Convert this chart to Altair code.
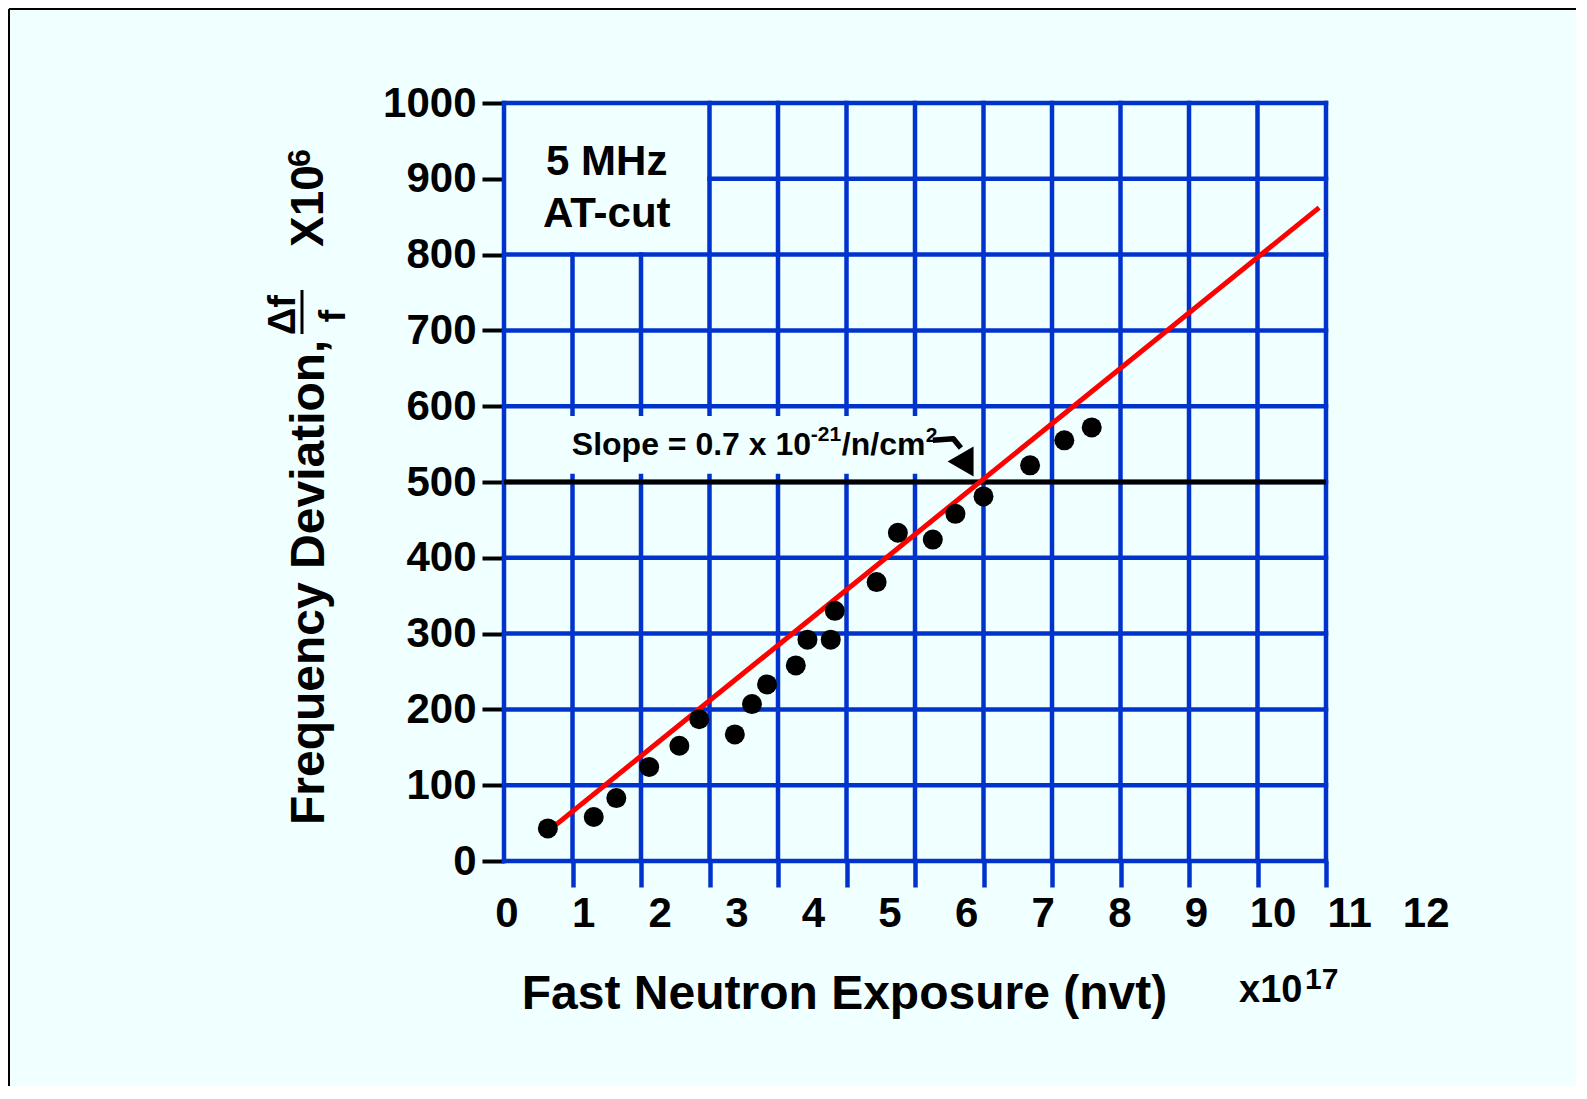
import altair as alt
import pandas as pd

# ---------------- data ----------------
exposure = [0.64, 1.31, 1.64, 2.12, 2.56, 2.85, 3.37, 3.62, 3.84, 4.26, 4.43,
            4.77, 4.83, 5.44, 5.75, 6.26, 6.59, 7.00, 7.68, 8.18, 8.58]
deviation = [43, 58, 83, 124, 152, 187, 167, 207, 233, 258, 292,
             292, 330, 368, 433, 424, 458, 481, 522, 555, 572]
fit_exposure = [0.68, 11.9]
fit_deviation = [42, 862]

x_ticks = list(range(0, 13))
y_ticks = list(range(0, 1001, 100))
x_labels = list(range(0, 13))
box_x = [0, 3]
box_y = [800, 1000]
ref_level = 500

BLUE = "#0033CC"
BG = "#F0FFFF"
FONT = "Liberation Sans"
W, H = 822, 758
PAD = {"left": 496, "top": 95, "right": 250, "bottom": 225}

xs = alt.Scale(domain=[x_ticks[0], x_ticks[-1]], nice=False, zero=False)
ys = alt.Scale(domain=[y_ticks[0], y_ticks[-1]], nice=False, zero=False)

# ---------------- grid built from tick lists ----------------
vdf = pd.DataFrame({
    "x": x_ticks,
    "y1": [y_ticks[0]] * len(x_ticks),
    "y2": [box_y[0] if box_x[0] < v < box_x[1] else y_ticks[-1] for v in x_ticks],
})
hdf = pd.DataFrame({
    "y": y_ticks,
    "x1": [box_x[1] if box_y[0] < v < box_y[1] else x_ticks[0] for v in y_ticks],
    "x2": [x_ticks[-1]] * len(y_ticks),
})

x_axis = alt.Axis(values=x_ticks[1:], labels=False, domain=False, grid=False,
                  ticks=True, tickColor=BLUE, tickSize=26, tickWidth=4.5, title=None)
y_axis = alt.Axis(values=y_ticks, format="d", domain=False, grid=False, ticks=True,
                  tickColor="black", tickSize=22, tickWidth=4,
                  labelFont=FONT, labelFontSize=42, labelFontWeight="bold",
                  labelColor="black", labelPadding=6, title=None)

vgrid = alt.Chart(vdf).mark_rule(color=BLUE, strokeWidth=4.5, strokeCap="square").encode(
    x=alt.X("x:Q", scale=xs, axis=x_axis),
    y=alt.Y("y1:Q", scale=ys, axis=y_axis),
    y2="y2:Q",
)
hgrid = alt.Chart(hdf).mark_rule(color=BLUE, strokeWidth=4.5, strokeCap="square").encode(
    y=alt.Y("y:Q", scale=ys, title=None),
    x=alt.X("x1:Q", scale=xs, title=None),
    x2="x2:Q",
)
ref = alt.Chart(pd.DataFrame({"y": [ref_level], "x1": [x_ticks[0]], "x2": [x_ticks[-1]]})).mark_rule(
    color="black", strokeWidth=5).encode(
    y=alt.Y("y:Q", scale=ys, title=None),
    x=alt.X("x1:Q", scale=xs, title=None),
    x2="x2:Q",
)

# background patch behind the slope annotation
slope_bg = alt.Chart(pd.DataFrame({"x1": [0.5], "x2": [6.9], "y1": [511], "y2": [587]})).mark_rect(
    fill=BG).encode(
    x=alt.X("x1:Q", scale=xs, title=None), x2="x2:Q",
    y=alt.Y("y1:Q", scale=ys, title=None), y2="y2:Q",
)

fit = alt.Chart(pd.DataFrame({"x": fit_exposure, "y": fit_deviation})).mark_line(
    color="#FF0000", strokeWidth=5).encode(
    x=alt.X("x:Q", scale=xs, title=None),
    y=alt.Y("y:Q", scale=ys, title=None),
)

pts = alt.Chart(pd.DataFrame({"x": exposure, "y": deviation})).mark_circle(
    size=400, color="black", opacity=1).encode(
    x=alt.X("x:Q", scale=xs, title=None),
    y=alt.Y("y:Q", scale=ys, title=None),
)

box_text = alt.Chart(pd.DataFrame({"x": [1.5, 1.5], "y": [905, 837], "t": ["5 MHz", "AT-cut"]})).mark_text(
    font=FONT, fontSize=42, fontWeight="bold", color="black", align="center", baseline="alphabetic").encode(
    x=alt.X("x:Q", scale=xs, title=None),
    y=alt.Y("y:Q", scale=ys, title=None),
    text="t:N",
)


def slope_part(t, dx, dy, size):
    return alt.Chart(pd.DataFrame({"x": [0.99], "y": [536], "t": [t]})).mark_text(
        font=FONT, fontSize=size, fontWeight="bold", color="black", align="left",
        baseline="alphabetic", dx=dx, dy=dy).encode(
        x=alt.X("x:Q", scale=xs, title=None),
        y=alt.Y("y:Q", scale=ys, title=None),
        text="t:N",
    )


slope_text = alt.layer(
    slope_part("Slope = 0.7 x 10", 0, 0, 32),
    slope_part("-21", 239, -14, 21),
    slope_part("/n/cm", 270, 0, 32),
    slope_part("2", 354, -13, 21),
)

arrow_shaft = alt.Chart(pd.DataFrame({"x": [6.26, 6.56, 6.67], "y": [555, 557, 545], "o": [0, 1, 2]})).mark_line(
    color="black", strokeWidth=5.5, strokeJoin="round").encode(
    x=alt.X("x:Q", scale=xs, title=None),
    y=alt.Y("y:Q", scale=ys, title=None),
    order="o:Q",
)
arrow_head = alt.Chart(pd.DataFrame({"x": [6.76], "y": [522]})).mark_point(
    shape="triangle-up", filled=True, size=900, angle=150, color="black", opacity=1).encode(
    x=alt.X("x:Q", scale=xs, title=None),
    y=alt.Y("y:Q", scale=ys, title=None),
)


def px_text(t, x, y, size, align="left", angle=0):
    return alt.Chart(pd.DataFrame({"t": [t]})).mark_text(
        font=FONT, fontSize=size, fontWeight="bold", color="black",
        align=align, baseline="alphabetic", angle=angle).encode(
        x=alt.value(x), y=alt.value(y), text="t:N")


x_title = px_text("Fast Neutron Exposure (nvt)", 340.5, 906, 48, "center")
x_mult = px_text("x10", 735, 899, 38)
x_mult_exp = px_text("17", 801, 886, 30)
y_title = px_text("Frequency Deviation,", -180, 722, 48, "left", 270)
y_mult = px_text("X10", -181, 144, 46, "left", 270)
y_mult_exp = px_text("6", -194, 64, 32, "left", 270)
frac_num = px_text("\u0394f", -209, 212, 38, "center", 270)
frac_den = px_text("f", -159, 213, 37, "center", 270)
frac_bar = alt.Chart(pd.DataFrame({"a": [0]})).mark_rule(color="black", strokeWidth=3).encode(
    x=alt.value(-202), y=alt.value(187), y2=alt.value(231))

frame_left = alt.Chart(pd.DataFrame({"a": [0]})).mark_rule(color="black", strokeWidth=2).encode(
    x=alt.value(-495), y=alt.value(-94), y2=alt.value(H + PAD["bottom"]))
frame_top = alt.Chart(pd.DataFrame({"a": [0]})).mark_rule(color="black", strokeWidth=2).encode(
    y=alt.value(-94), x=alt.value(-495), x2=alt.value(W + PAD["right"]))

main = alt.layer(
    vgrid, hgrid, ref, slope_bg, fit, pts, box_text, slope_text, arrow_shaft, arrow_head,
    x_title, x_mult, x_mult_exp, y_title, y_mult, y_mult_exp, frac_num, frac_den, frac_bar,
    frame_left, frame_top,
).properties(width=W, height=H)

# tick labels for the exposure axis (spaced on their own scale, as in the reference)
LABEL_STEP = 76.6
lo = -3 / LABEL_STEP
hi = lo + W / LABEL_STEP
xlab = alt.Chart(pd.DataFrame({"label": x_labels})).mark_text(
    font=FONT, fontSize=42, fontWeight="bold", color="black", align="center", baseline="alphabetic").encode(
    x=alt.X("label:Q", scale=alt.Scale(domain=[lo, hi], nice=False, zero=False), axis=None),
    y=alt.value(824),
    text=alt.Text("label:Q", format="d"),
).properties(width=W, height=H)

chart = alt.layer(main, xlab).resolve_scale(x="independent").properties(
    width=W, height=H, padding=PAD, autosize=alt.AutoSizeParams(type="none"), background=BG,
).configure_view(stroke=None)

chart.save("out.html", embed_options={"renderer": "svg", "actions": False})
